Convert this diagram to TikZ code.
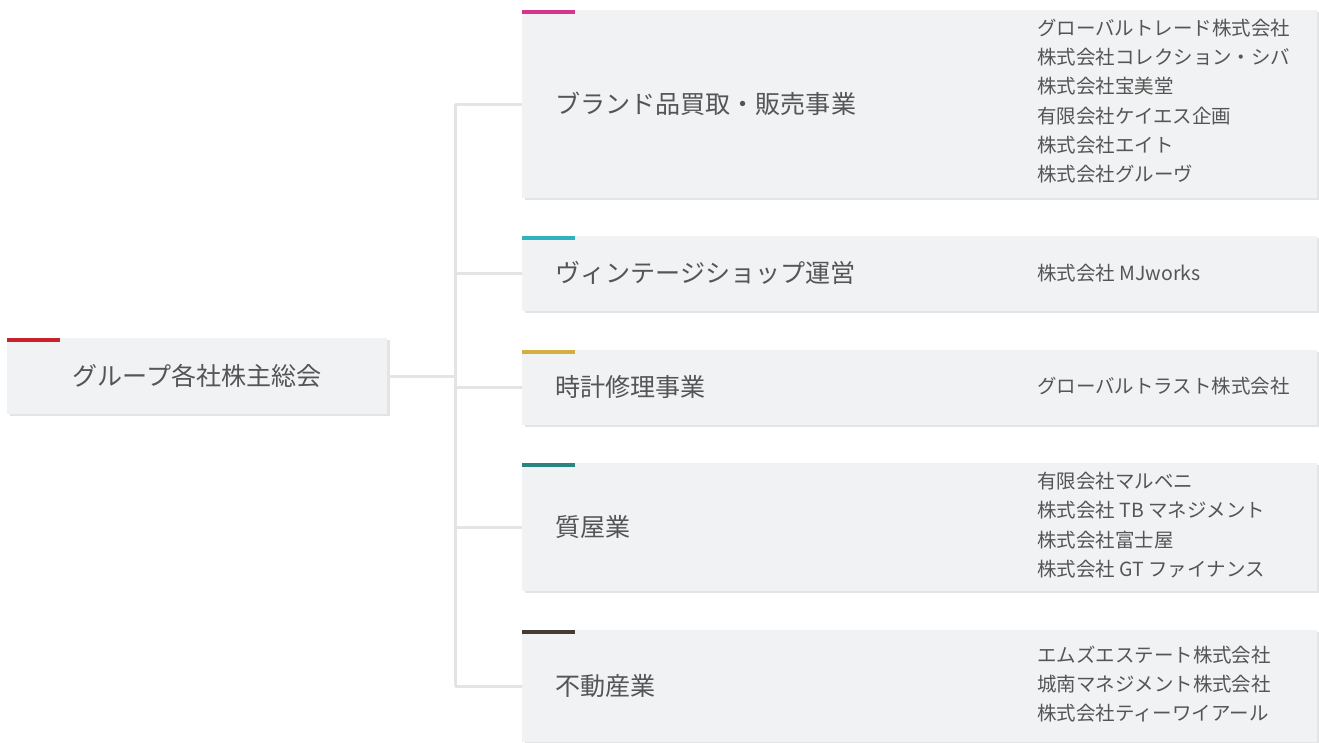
\documentclass[tikz,border=0pt]{standalone}
\usepackage{fontspec}
\setmainfont{Noto Sans CJK JP}
\usetikzlibrary{shadows}
\definecolor{boxgray}{HTML}{F1F2F4}
\definecolor{shadowgray}{HTML}{E3E4E6}
\definecolor{linegray}{HTML}{E4E4E4}
\definecolor{textgray}{HTML}{555555}
\definecolor{barred}{HTML}{C8232C}
\definecolor{barpink}{HTML}{D6358E}
\definecolor{barcyan}{HTML}{2FB3BF}
\definecolor{bargold}{HTML}{D5AE40}
\definecolor{barteal}{HTML}{2A857F}
\definecolor{barbrown}{HTML}{463B33}
\newdimen\pxu \pxu=0.75pt

\begin{document}
\begin{tikzpicture}[x=0.75pt,y=-0.75pt,
        panel/.style={fill=boxgray, inner sep=0, anchor=north west,
            drop shadow={shadow xshift=3\pxu, shadow yshift=-2\pxu, fill=shadowgray, opacity=1}},
        conn/.style={draw=linegray, line width=3\pxu},
        lab/.style={text=textgray, inner sep=0, anchor=west, font=\fontsize{18.8pt}{22pt}\selectfont},
        firms/.style={text=textgray, inner sep=0, anchor=west, align=left, font=\fontsize{14.6pt}{22pt}\selectfont}]
        \useasboundingbox (0,0) rectangle (1319,742);
        %nodo principale
        \node[panel, minimum width=380\pxu, minimum height=76\pxu, text=textgray,
            font=\fontsize{18.8pt}{22pt}\selectfont] (root) at (7,338) {グループ各社株主総会};
        \fill[barred] (root.north west) rectangle ++(53,4);
        %riquadri dei settori
        \node[panel, minimum width=795\pxu, minimum height=188\pxu] (b1) at (522,10) {};
        \node[panel, minimum width=795\pxu, minimum height=75\pxu] (b2) at (522,236) {};
        \node[panel, minimum width=795\pxu, minimum height=75\pxu] (b3) at (522,350) {};
        \node[panel, minimum width=795\pxu, minimum height=128\pxu] (b4) at (522,463) {};
        \node[panel, minimum width=795\pxu, minimum height=112\pxu] (b5) at (522,630) {};
        \fill[barpink] (b1.north west) rectangle ++(53,4);
        \fill[barcyan] (b2.north west) rectangle ++(53,4);
        \fill[bargold] (b3.north west) rectangle ++(53,4);
        \fill[barteal] (b4.north west) rectangle ++(53,4);
        \fill[barbrown] (b5.north west) rectangle ++(53,4);
        %collegamenti
        \coordinate (trunk) at (455,0);
        \draw[conn] (root.east) -- (root.east -| trunk);
        \draw[conn] (b1.west -| trunk) -- (b5.west -| trunk);
        \foreach \b in {b1,b2,b3,b4,b5}
            \draw[conn] (\b.west -| trunk) -- (\b.west);
        %nomi dei settori
        \node[lab] (l1) at (555,104) {ブランド品買取・販売事業};
        \node[lab] (l2) at (555,273) {ヴィンテージショップ運営};
        \node[lab] (l3) at (555,387) {時計修理事業};
        \node[lab] (l4) at (555,527) {質屋業};
        \node[lab] (l5) at (555,686) {不動産業};
        %societa
        \node[firms] (f1) at (1037,101) {グローバルトレード株式会社\\株式会社コレクション・シバ\\株式会社宝美堂\\有限会社ケイエス企画\\株式会社エイト\\株式会社グルーヴ};
        \node[firms] (f2) at (1037,273) {株式会社 MJworks};
        \node[firms] (f3) at (1037,386) {グローバルトラスト株式会社};
        \node[firms] (f4) at (1037,525) {有限会社マルベニ\\株式会社 TB マネジメント\\株式会社富士屋\\株式会社 GT ファイナンス};
        \node[firms] (f5) at (1037,684) {エムズエステート株式会社\\城南マネジメント株式会社\\株式会社ティーワイアール};
    \end{tikzpicture}
\end{document}
